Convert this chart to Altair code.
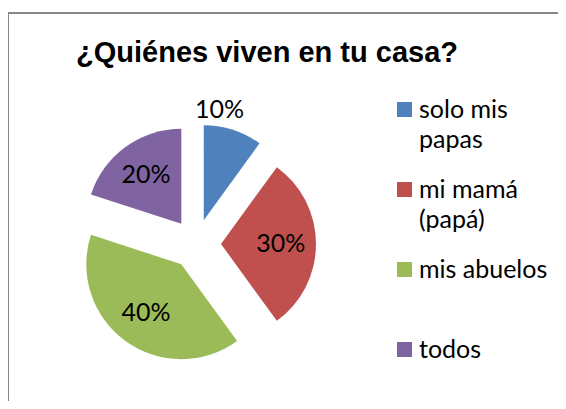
import altair as alt
import pandas as pd

# ---- data -------------------------------------------------------------
categories = ["solo mis papas", "mi mamá (papá)", "mis abuelos", "todos"]
values = [10, 30, 40, 20]
colors = ["#4F81BD", "#C0504D", "#9BBB59", "#8064A2"]
title_text = "¿Quiénes viven en tu casa?"

df = pd.DataFrame({
    "categoria": categories,
    "valor": values,
    "orden": list(range(len(categories))),
})

# ---- layout (style) ---------------------------------------------------
W, H = 550, 388          # view size
R = 95                   # pie radius in px
CX, CY = 188, 231        # pie centre inside view (px)
EXPLODE = 25 / R         # explosion distance, in radius units
LR_IN, LR_OUT = 0.63, 1.22
LABEL_FONT = "Lato"
BORDER = "#868686"

xscale = alt.Scale(domain=[-CX / R, (W - CX) / R], nice=False, zero=False)
yscale = alt.Scale(domain=[-(H - CY) / R, CY / R], nice=False, zero=False)
tscale = alt.Scale(domain=[0, 1], range=[0, 6.283185307179586])

base = alt.Chart(df).transform_joinaggregate(
    total="sum(valor)"
).transform_window(
    fin_abs="sum(valor)", sort=[alt.SortField("orden")], frame=[None, 0]
).transform_calculate(
    fin="datum.fin_abs / datum.total",
    ini="(datum.fin_abs - datum.valor) / datum.total",
    frac="datum.valor / datum.total",
).transform_calculate(
    mid="(datum.ini + datum.fin) * PI",
).transform_calculate(
    ox=f"{EXPLODE} * sin(datum.mid)",
    oy=f"{EXPLODE} * cos(datum.mid)",
    lr=f"datum.frac < 0.15 ? {LR_OUT} : {LR_IN}",
    etiqueta="format(datum.frac, '.0%')",
).transform_calculate(
    lx="datum.ox + datum.lr * sin(datum.mid)",
    ly="datum.oy + datum.lr * cos(datum.mid)",
)

legend = alt.Legend(
    orient="none", legendX=384, legendY=84, title=None,
    symbolType="square", symbolSize=225, symbolStrokeWidth=0,
    labelFontSize=25, labelFont=LABEL_FONT, labelColor="black",
    labelOffset=2, padding=0, rowPadding=24, gridAlign="all",
    labelExpr="length(datum.label) > 11 ? [substring(datum.label, 0, lastindexof(datum.label, ' ')), substring(datum.label, lastindexof(datum.label, ' ') + 1)] : datum.label",
)

arcs = base.mark_arc(outerRadius=R).encode(
    x=alt.X("ox:Q", scale=xscale, axis=None),
    y=alt.Y("oy:Q", scale=yscale, axis=None),
    theta=alt.Theta("ini:Q", stack=None, scale=tscale),
    theta2="fin:Q",
    color=alt.Color("categoria:N", scale=alt.Scale(domain=categories, range=colors), legend=legend),
)

labels_in = base.transform_filter("datum.frac >= 0.15").mark_text(
    font=LABEL_FONT, fontSize=25, color="black", align="center", baseline="middle"
).encode(
    x=alt.X("lx:Q", scale=xscale, axis=None),
    y=alt.Y("ly:Q", scale=yscale, axis=None),
    text="etiqueta:N",
)

labels_out = base.transform_filter("datum.frac < 0.15").mark_text(
    font=LABEL_FONT, fontSize=25, color="black", align="center", baseline="middle", dx=-20
).encode(
    x=alt.X("lx:Q", scale=xscale, axis=None),
    y=alt.Y("ly:Q", scale=yscale, axis=None),
    text="etiqueta:N",
)

# chart frame (left and top edges, as in the reference)
frame_df = pd.DataFrame({"k": [0]})
left_edge = alt.Chart(frame_df).mark_rect(color=BORDER).encode(
    x=alt.value(-1), x2=alt.value(1), y=alt.value(-1), y2=alt.value(H)
)
top_edge = alt.Chart(frame_df).mark_rect(color=BORDER).encode(
    x=alt.value(-1), x2=alt.value(W), y=alt.value(-1), y2=alt.value(1)
)

chart = alt.layer(left_edge, top_edge, arcs, labels_in, labels_out).properties(
    width=W, height=H,
    autosize="none",
    padding={"left": 0, "top": 5, "right": 0, "bottom": 0},
    title=alt.TitleParams(
        title_text, font="Liberation Sans", fontSize=29, fontWeight="bold",
        color="black", anchor="middle", frame="group", offset=-79, dx=-16,
        baseline="alphabetic",
    ),
).configure(
    style={"guide-label": {"lineHeight": 30}}
).configure_view(strokeOpacity=0)

chart.save("out.html", embed_options={"renderer": "svg", "actions": False})
